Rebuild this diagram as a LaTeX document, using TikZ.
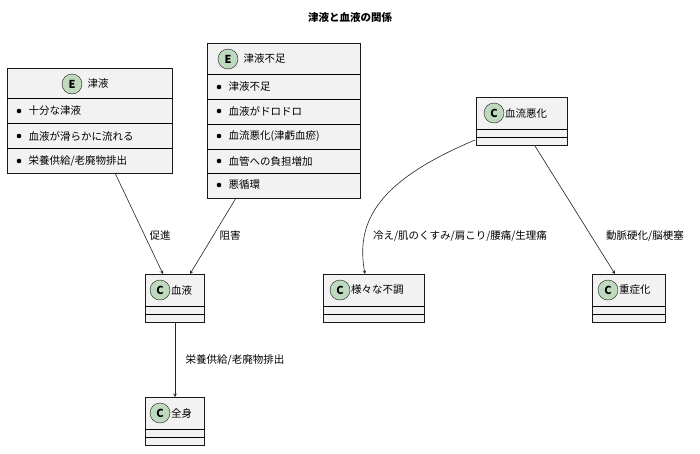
\documentclass[tikz,border=0pt]{standalone}
\usepackage{fontspec}
\setmainfont{Noto Sans CJK JP}
\begin{document}
\begin{tikzpicture}[x=1pt,y=-1pt,font=\fontsize{10.5}{12}\selectfont,
 box/.style={draw=black!90,fill=black!5,line width=0.6pt},
 ic/.style={circle,draw=black!90,fill=green!25!gray!40,minimum size=20pt,inner sep=0pt,font=\bfseries\fontsize{11}{12}\selectfont},
 edge/.style={draw=black!85,line width=0.6pt,->,>=stealth},
 lab/.style={fill=white,inner sep=1pt}]
\useasboundingbox (0,0) rectangle (700,453);
\fill[white] (0,0) rectangle (700,453);
\node[font=\bfseries\fontsize{10.5}{12}\selectfont] (title) at (350,18) {津液と血液の関係};
% entity 津液
\draw[box] (7,68) rectangle (172,173);
\coordinate (e1t) at (115,173);
\node[ic] (i1) at (72,84) {E}; \node[anchor=west] (t1) at (84,84) {津液};
\foreach \y in {98,123,148} \draw (7,\y) -- (172,\y);
\foreach \y/\t in {111/{十分な津液},136/{血液が滑らかに流れる},161/{栄養供給/老廃物排出}}
 {\fill (19,\y) circle (2.3pt); \node[anchor=west] at (25,\y) {\t};}
% entity 津液不足
\draw[box] (207,43) rectangle (360,198);
\coordinate (e2t) at (236,198);
\node[ic] (i2) at (228,59) {E}; \node[anchor=west] (t2) at (240,59) {津液不足};
\foreach \y in {74,99,124,149,173} \draw (207,\y) -- (360,\y);
\foreach \y/\t in {87/{津液不足},111/{血液がドロドロ},136/{血流悪化(津虧血瘀)},161/{血管への負担増加},185/{悪循環}}
 {\fill (219,\y) circle (2.3pt); \node[anchor=west] at (225,\y) {\t};}
% classes
\newcommand\cls[6]{%
 \draw[box] (#2,#3) rectangle (#4,#3+48);
 \draw (#2,#3+32) -- (#4,#3+32); \draw (#2,#3+40) -- (#4,#3+40);
 \node[ic] (#1i) at (#5,#3+16) {C}; \node[anchor=west,inner sep=1pt] at (#5+10,#3+16) {#6};
 \coordinate (#1) at ({(#2+#4)/2},#3+24);}
\cls{flow}{476}{97}{567}{494}{血流悪化}
\cls{blood}{145}{274}{204}{160}{血液}
\cls{fuku}{323}{274}{424}{340}{様々な不調}
\cls{jyu}{592}{274}{665}{608}{重症化}
\cls{zen}{145}{397}{204}{160}{全身}
\coordinate (bTop1) at (163,274); \coordinate (bTop2) at (190,274);
\coordinate (bBot) at (175,322); \coordinate (zTop) at (175,397);
\coordinate (fL) at (475,140); \coordinate (fR) at (535,146);
\coordinate (kTop) at (365,274); \coordinate (jTop) at (615,274);
\draw[edge] (e1t) -- (bTop1);
\draw[edge] (e2t) -- (bTop2);
\draw[edge] (bBot) -- (zTop);
\draw[edge] (fL) .. controls (380,180) and (355,220) .. (kTop);
\draw[edge] (fR) -- (jTop);
\node[lab] at (160,236) {促進};
\node[lab] at (230,236) {阻害};
\node[lab] at (235,360) {栄養供給/老廃物排出};
\node[lab] at (460,236) {冷え/肌のくすみ/肩こり/腰痛/生理痛};
\node[lab] at (645,236) {動脈硬化/脳梗塞};
\end{tikzpicture}
\end{document}
